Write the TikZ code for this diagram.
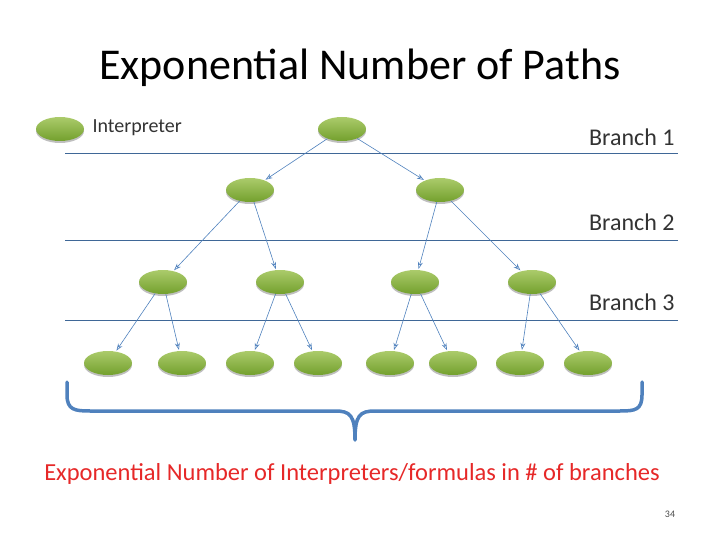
\documentclass[tikz,border=0pt]{standalone}
\usepackage{fontspec}
\setmainfont{Carlito}
\usetikzlibrary{shapes.geometric,arrows.meta}
\definecolor{lgreen}{RGB}{150,190,70}
\definecolor{dgreen}{RGB}{115,160,45}
\definecolor{lblue}{RGB}{79,129,189}
\definecolor{ered}{RGB}{230,40,40}
\tikzset{
 interp/.style={ellipse,minimum width=48pt,minimum height=24pt,inner sep=0pt,draw=none,
   top color=lgreen!80!white,bottom color=dgreen,
   preaction={fill=black!25,transform canvas={yshift=-2pt}}},
 conn/.style={-{Stealth[length=7pt,width=5pt,open]},lblue,line width=0.6pt,shorten >=1pt},
 sep/.style={lblue!80!black,line width=0.6pt},
 blabel/.style={anchor=east,font=\fontsize{24}{24}\selectfont,text=black!80}
}
\begin{document}
\begin{tikzpicture}[x=1pt,y=-1pt]
\useasboundingbox (0,0) rectangle (720,540);
\node[font=\fontsize{44}{44}\selectfont] (title) at (360,68) {Exponential Number of Paths};
% separators
\coordinate (s1a) at (65,153); \coordinate (s1b) at (678,153);
\coordinate (s2a) at (65,240); \coordinate (s2b) at (678,240);
\coordinate (s3a) at (65,320); \coordinate (s3b) at (678,320);
\draw[sep] (s1a) -- (s1b); \draw[sep] (s2a) -- (s2b); \draw[sep] (s3a) -- (s3b);
\node[blabel] (b1) at (678,137) {Branch 1};
\node[blabel] (b2) at (678,222) {Branch 2};
\node[blabel] (b3) at (678,302) {Branch 3};
% legend
\node[interp] (leg) at (60,129) {};
\node[anchor=west,font=\fontsize{20}{20}\selectfont,text=black!80] (legt) at (89,128) {Interpreter};
% tree
\node[interp] (r) at (342,129) {};
\node[interp] (a) at (250,190) {};
\node[interp] (b) at (440,190) {};
\node[interp] (c1) at (163,282) {};
\node[interp] (c2) at (280,282) {};
\node[interp] (c3) at (415,282) {};
\node[interp] (c4) at (532,282) {};
\foreach \n/\x in {1/108,2/182,3/250,4/318,5/390,6/453,7/520,8/588}
  \node[interp] (d\n) at (\x,363) {};
\draw[conn] (r) -- (a); \draw[conn] (r) -- (b);
\draw[conn] (a) -- (c1); \draw[conn] (a) -- (c2);
\draw[conn] (b) -- (c3); \draw[conn] (b) -- (c4);
\draw[conn] (c1) -- (d1); \draw[conn] (c1) -- (d2);
\draw[conn] (c2) -- (d3); \draw[conn] (c2) -- (d4);
\draw[conn] (c3) -- (d5); \draw[conn] (c3) -- (d6);
\draw[conn] (c4) -- (d7); \draw[conn] (c4) -- (d8);
% brace
\coordinate (bl) at (67,382); \coordinate (br) at (642,382); \coordinate (bt) at (355,440);
\draw[lblue,line width=3.5pt,line cap=round,line join=round]
  (bl) -- (67,395) .. controls (67,410) and (75,411) .. (90,411)
  -- (335,411) .. controls (350,411) and (355,415) .. (bt)
  .. controls (355,415) and (360,411) .. (375,411)
  -- (620,411) .. controls (635,411) and (642,410) .. (642,395) -- (br);
\node[text=ered,font=\fontsize{24.5}{24}\selectfont] (cap) at (352,474) {Exponential Number of Interpreters/formulas in \# of branches};
\node[font=\fontsize{10}{10}\selectfont,text=black!70] (pg) at (670,514) {34};
\end{tikzpicture}
\end{document}
